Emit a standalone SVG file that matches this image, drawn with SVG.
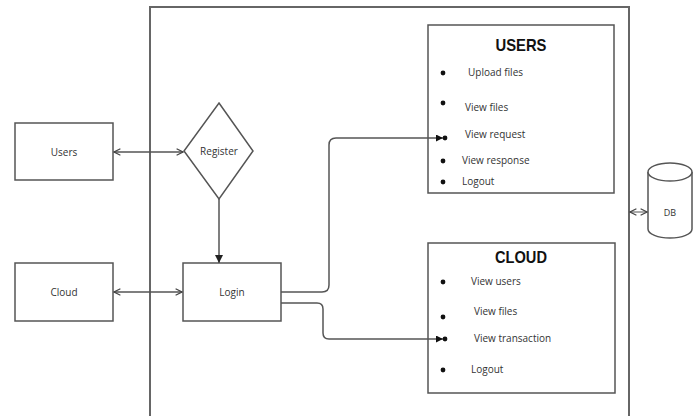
<svg xmlns="http://www.w3.org/2000/svg" width="699" height="416" viewBox="0 0 699 416">
<style>
.box{fill:#fff;stroke:#555;stroke-width:1.5}
.frame{fill:none;stroke:#666;stroke-width:2}
.t{font-family:"Open Sans","Liberation Sans",sans-serif;font-size:10px;fill:#333}
.c{text-anchor:middle;dominant-baseline:central}
.h{font-family:"Liberation Sans",Arial,sans-serif;font-size:17px;font-weight:bold;fill:#111;text-anchor:middle}
.con{fill:none;stroke:#555;stroke-width:1.5}
.dot{fill:#111}
</style>
<defs>
<marker id="open" viewBox="0 0 10 10" refX="9" refY="5" markerWidth="8" markerHeight="8" orient="auto-start-reverse" markerUnits="userSpaceOnUse">
<path d="M1,1 L9,5 L1,9" fill="none" stroke="#444" stroke-width="1.5"/>
</marker>
<marker id="fill" viewBox="0 0 10 10" refX="10" refY="5" markerWidth="7" markerHeight="7" orient="auto" markerUnits="userSpaceOnUse">
<path d="M0,0 L10,5 L0,10 Z" fill="#111"/>
</marker>
<marker id="down" viewBox="0 0 10 10" refX="10" refY="5" markerWidth="8" markerHeight="8" orient="auto" markerUnits="userSpaceOnUse">
<path d="M0,0 L10,5 L0,10 Z" fill="#222"/>
</marker>
</defs>
<rect width="699" height="416" fill="#fff"/>
<path class="frame" d="M150,420 V7 H629 V420"/>
<g id="users-ext"><rect class="box" x="15" y="123" width="98" height="57"/><text class="t c" x="64" y="152">Users</text></g>
<g id="cloud-ext"><rect class="box" x="15" y="263" width="98" height="58"/><text class="t c" x="64" y="292">Cloud</text></g>
<g id="register"><path class="box" d="M219,103 L253,151 L219,199 L184,151 Z"/><text class="t c" x="219" y="151">Register</text></g>
<g id="login"><rect class="box" x="183" y="263" width="98" height="58"/><text class="t c" x="232" y="292">Login</text></g>
<g id="users-panel">
<rect class="box" x="428" y="25" width="186" height="168"/>
<text class="h" x="521" y="51" textLength="51" lengthAdjust="spacingAndGlyphs">USERS</text>
<circle class="dot" cx="443" cy="73" r="2.4"/><text class="t" x="468" y="76">Upload files</text>
<circle class="dot" cx="443" cy="103" r="2.4"/><text class="t" x="465" y="111">View files</text>
<circle class="dot" cx="445" cy="138" r="2.4"/><text class="t" x="465" y="138">View request</text>
<circle class="dot" cx="443" cy="161" r="2.4"/><text class="t" x="462" y="164">View response</text>
<circle class="dot" cx="443" cy="182" r="2.4"/><text class="t" x="462" y="185">Logout</text>
</g>
<g id="cloud-panel">
<rect class="box" x="428" y="243" width="187" height="150"/>
<text class="h" x="521" y="263" textLength="52" lengthAdjust="spacingAndGlyphs">CLOUD</text>
<circle class="dot" cx="443" cy="282" r="2.4"/><text class="t" x="471" y="285">View users</text>
<circle class="dot" cx="443" cy="317" r="2.4"/><text class="t" x="474" y="315">View files</text>
<circle class="dot" cx="445" cy="339" r="2.4"/><text class="t" x="474" y="342">View transaction</text>
<circle class="dot" cx="443" cy="370" r="2.4"/><text class="t" x="471" y="373">Logout</text>
</g>
<g id="db">
<path class="box" d="M648,172 V229 A22,9 0 0 0 692,229 V172"/>
<ellipse class="box" cx="670" cy="172" rx="22" ry="9"/>
<text class="t c" x="670" y="212" style="font-size:9px">DB</text>
</g>
<g id="connectors">
<line class="con" x1="114" y1="152" x2="183" y2="152" marker-start="url(#open)" marker-end="url(#open)"/>
<line class="con" x1="114" y1="292" x2="182" y2="292" marker-start="url(#open)" marker-end="url(#open)"/>
<line class="con" x1="219" y1="199" x2="219" y2="263" marker-end="url(#down)"/>
<path class="con" d="M281,292 H322 Q329,292 329,285 V145 Q329,138 336,138 H443" marker-end="url(#fill)"/>
<path class="con" d="M281,303 H317 Q323,303 323,309 V333 Q323,339 329,339 H443" marker-end="url(#fill)"/>
<line class="con" x1="630" y1="212" x2="647" y2="212" marker-start="url(#open)" marker-end="url(#open)" style="stroke-width:1"/>
</g>
</svg>
